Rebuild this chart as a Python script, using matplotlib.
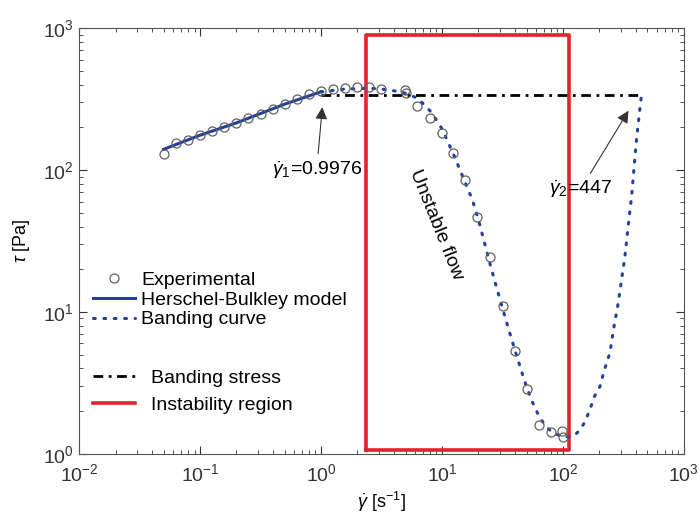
import matplotlib
matplotlib.use('Agg')
import matplotlib.pyplot as plt

plt.rcParams['font.family'] = ['Liberation Sans', 'DejaVu Sans']
plt.rcParams['mathtext.fontset'] = 'custom'
plt.rcParams['mathtext.rm'] = 'Liberation Sans'
plt.rcParams['mathtext.it'] = 'Liberation Sans:italic'
plt.rcParams['mathtext.bf'] = 'Liberation Sans:bold'

# experimental points (shear rate 1/s, stress Pa)
exp_rate = [0.05, 0.063, 0.079, 0.1, 0.126, 0.158, 0.2, 0.251, 0.316, 0.398, 0.501,
            0.631, 0.794, 1.0, 1.26, 1.58, 2.0, 2.51, 3.16, 4.9, 5.0, 6.18, 7.94,
            10.0, 12.4, 15.5, 19.5, 24.9, 31.8, 40.1, 50.1, 63.5, 79.0, 99.0, 100.0]
exp_stress = [130, 154, 164, 176, 188, 202, 215, 231, 247, 267, 291,
              316, 343, 358, 372, 376, 382, 382, 372, 366, 347, 284, 231,
              181, 131, 85, 47, 24.5, 11.0, 5.3, 2.86, 1.60, 1.42, 1.44, 1.32]

# Herschel-Bulkley fit
hb_rate = [0.05, 0.1, 0.2, 0.5, 1.0]
hb_stress = [140, 176, 215, 291, 356]

# banding curve
band_rate = [1.0, 1.58, 2.51, 3.16, 3.98, 5.01, 6.31, 7.08, 7.94, 8.91, 10.0, 11.2,
             12.6, 14.1, 15.8, 17.8, 20.0, 22.4, 25.1, 28.2, 31.6, 35.5, 39.8, 44.7,
             50.1, 56.2, 63.1, 70.8, 79.4, 89.1, 100, 112, 126, 138, 150, 167, 180,
             202, 220, 244, 265, 286, 305, 325, 345, 370, 390, 406, 425, 447]
band_stress = [355, 372, 377, 372, 362, 347, 320, 290, 262, 228, 195, 158,
               126, 100, 79, 62, 44.7, 31, 21.4, 15, 10.7, 7.6, 5.5, 4.0,
               2.95, 2.3, 1.86, 1.6, 1.45, 1.37, 1.33, 1.32, 1.36, 1.48, 1.65, 2.04, 2.5,
               2.98, 3.9, 5.12, 8.0, 11.5, 16.8, 24.5, 39, 66, 112, 165, 236, 345]

# banding stress
bs_rate = [0.9976, 447]
bs_stress = [340, 340]

# instability region (closed rectangle)
inst_rate = [2.35, 112, 112, 2.35, 2.35]
inst_stress = [1.07, 1.07, 890, 890, 1.07]

fig = plt.figure(figsize=(7, 5.2), dpi=100)
ax = fig.add_axes([0.113, 0.127, 0.864, 0.819])

blue = '#23419a'
h_exp, = ax.plot(exp_rate, exp_stress, 'o', mfc='none', mec='#606060', ms=6.5, mew=0.9,
                 label='Experimental', zorder=4)
h_hb, = ax.plot(hb_rate, hb_stress, '-', color=blue, lw=2.2, label='Herschel-Bulkley model', zorder=3)
h_band, = ax.plot(band_rate, band_stress, color=blue, lw=2.2, linestyle=(0, (0.6, 2.8)),
                  dash_capstyle='round', label='Banding curve', zorder=3)
h_bs, = ax.plot(bs_rate, bs_stress, color='black', lw=2.0, linestyle=(0, (3.5, 2, 1, 2)),
                label='Banding stress', zorder=3)
h_inst, = ax.plot(inst_rate, inst_stress, color='#e3222b', lw=2.6, label='Instability region', zorder=2)

ax.set_xscale('log')
ax.set_yscale('log')
ax.set_xlim(1e-2, 1e3)
ax.set_ylim(1e0, 1e3)

ax.tick_params(which='both', direction='in', top=True, right=True, labelsize=14, colors='#333333')
ax.tick_params(which='major', length=6)
ax.tick_params(which='minor', length=3)
ax.tick_params(axis='x', pad=7)
for s in ax.spines.values():
    s.set_color('#555555')

ax.set_xlabel(r'$\dot{\gamma}$ [s$^{-1}$]', fontsize=13, labelpad=3)
ax.set_ylabel(r'$\tau$ [Pa]', fontsize=13, labelpad=8)

ax.annotate(r'$\dot{\gamma}_1$=0.9976', xy=(1.03, 290), xytext=(0.92, 100),
            fontsize=14, ha='center', va='center',
            arrowprops=dict(arrowstyle='-|>', color='#333333', lw=0.8, mutation_scale=18))
ax.annotate(r'$\dot{\gamma}_2$=447', xy=(358, 272), xytext=(140, 73),
            fontsize=14, ha='center', va='center',
            arrowprops=dict(arrowstyle='-|>', color='#333333', lw=0.8, mutation_scale=18))
ax.text(9.0, 41, 'Unstable flow', rotation=-68, fontsize=14, ha='center', va='center')

leg1 = ax.legend(handles=[h_exp, h_hb, h_band], loc='upper left', bbox_to_anchor=(0.0, 0.46),
                 frameon=False, fontsize=14, handlelength=2.2, handletextpad=0.3,
                 labelspacing=0.1, borderaxespad=0.3)
ax.add_artist(leg1)
ax.legend(handles=[h_bs, h_inst], loc='upper left', bbox_to_anchor=(0.0, 0.23),
          frameon=False, fontsize=14, handlelength=2.2, handletextpad=0.8,
          labelspacing=0.45, borderaxespad=0.3)

fig.savefig('out.png', dpi=100)
